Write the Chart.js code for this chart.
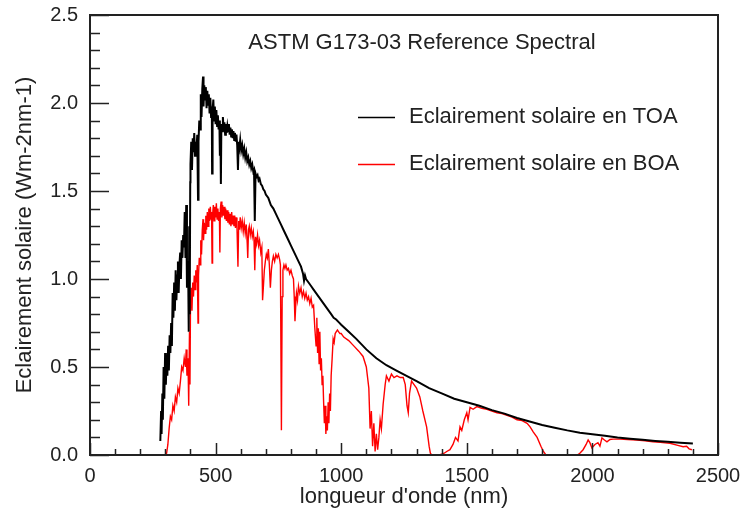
<!DOCTYPE html>
<html>
<head>
<meta charset="utf-8">
<script src="https://cdn.jsdelivr.net/npm/chart.js@4/dist/chart.umd.min.js"></script>
<style>
  html, body { margin: 0; padding: 0; background: #fff; }
</style>
</head>
<body>
<canvas id="spectre" width="744" height="513"></canvas>
<script>
// longueurs d'onde (nm) et eclairement (Wm-2nm-1)
var toaNm = [280,283,285,288,290,293,296,299,302,305,308,311,314,317,320,323,326,329,332,335,338,341,344,347,350,353,356,359,362,365,368,371,374,377,380,383,386,389,391,393,395,397,399,
    400,403,406,409,412,415,418,421,424,427,430,432,435,438,441,444,447,450,452,455,458,461,464,467,470,473,476,479,482,485,486,488,491,494,497,500,503,506,509,512,515,517,519,521,523,526,529,532,535,538,541,544,547,550,553,556,559,562,565,568,571,574,577,580,583,586,589,592,595,598,602,606,610,614,618,622,626,630,634,638,642,646,650,653,656,659,663,667,671,675,680,685,690,695,
    700,710,720,730,740,750,760,770,780,790,800,810,820,830,840,848,852,856,860,870,880,890,900,910,920,930,940,950,960,970,980,990,1000,1030,1060,1100,1140,1180,1220,1260,1300,1350,1400,1450,1500,1550,1600,1650,1700,1750,1800,1850,1900,1950,2000,2050,2100,2150,2200,2250,2300,2350,2400];
var toaVal = [0.08,0.25,0.12,0.35,0.20,0.50,0.32,0.58,0.40,0.55,0.45,0.62,0.48,0.68,0.58,0.75,0.62,0.92,0.78,0.98,0.82,1.05,0.88,1.02,1.10,0.92,1.08,1.15,1.00,1.22,1.12,1.25,1.18,1.38,1.12,1.42,0.95,1.10,1.02,0.70,1.30,0.80,1.55,
    1.65,1.78,1.62,1.80,1.72,1.83,1.70,1.78,1.74,1.82,1.45,1.78,1.90,1.85,2.05,1.92,2.08,2.15,1.98,2.10,2.02,2.09,1.97,2.07,1.99,2.05,1.94,2.03,1.92,1.98,1.60,1.96,2.02,1.90,1.98,1.88,1.96,1.87,1.93,1.85,1.90,1.70,1.86,1.54,1.88,1.84,1.92,1.85,1.89,1.82,1.88,1.83,1.87,1.84,1.88,1.82,1.86,1.81,1.85,1.80,1.84,1.79,1.83,1.78,1.82,1.76,1.62,1.78,1.75,1.79,1.73,1.76,1.71,1.74,1.69,1.72,1.67,1.69,1.65,1.67,1.63,1.65,1.61,1.62,1.33,1.60,1.58,1.59,1.56,1.57,1.54,1.53,1.51,1.50,
    1.48,1.46,1.42,1.40,1.37,1.34,1.31,1.28,1.25,1.22,1.19,1.16,1.13,1.10,1.07,1.03,0.99,1.02,1.00,0.98,0.96,0.94,0.92,0.90,0.88,0.86,0.84,0.82,0.80,0.78,0.77,0.755,0.74,0.70,0.66,0.60,0.55,0.51,0.48,0.45,0.42,0.38,0.35,0.32,0.30,0.28,0.255,0.235,0.21,0.19,0.17,0.155,0.14,0.127,0.118,0.11,0.10,0.093,0.086,0.08,0.075,0.07,0.065];

var boaNm = [300,305,310,315,320,325,330,335,340,345,350,355,360,365,370,375,380,383,386,390,393,396,398,
    400,403,406,409,412,415,418,421,424,427,430,432,435,438,441,444,447,450,452,455,458,461,464,467,470,473,476,479,482,484,486,488,491,494,497,500,503,506,509,512,515,517,519,522,525,528,531,534,537,540,543,546,549,552,555,558,561,564,567,570,573,576,579,582,585,589,592,595,598,602,606,610,614,618,622,626,628,631,634,638,642,646,650,653,656,659,663,667,671,675,680,684,687,690,694,698,
    702,706,710,714,718,722,726,730,735,740,745,750,755,758,762,765,768,772,776,780,785,790,795,800,805,810,813,816,819,822,826,830,835,840,845,850,855,860,865,870,875,880,885,890,895,900,903,906,909,912,915,918,921,924,927,930,933,936,939,942,945,948,951,954,957,960,964,968,972,976,980,985,990,995,
    1000,1010,1030,1050,1070,1087,1100,1110,1115,1120,1125,1130,1135,1140,1145,1150,1155,1160,1167,1175,1180,1190,1200,1210,1222,1235,1247,1255,1262,1267,1272,1280,1290,1300,1313,1325,1340,1350,1355,1360,1390,1400,1410,1420,1433,1445,1455,1465,1473,1480,1490,1500,1505,1513,1525,1540,1560,1580,1600,1620,1640,1660,1680,1700,1720,1740,1752,1765,1780,1795,1805,1815,
    1940,1950,1963,1975,1983,1990,1998,2010,2022,2030,2038,2048,2058,2070,2082,2110,2140,2177,2210,2241,2270,2309,2340,2361,2375,2385,2396];
var boaVal = [0.0,0.01,0.06,0.15,0.22,0.20,0.28,0.25,0.33,0.30,0.38,0.35,0.42,0.50,0.48,0.55,0.50,0.60,0.45,0.55,0.28,0.70,0.40,
    0.85,0.95,0.82,0.98,0.90,1.02,0.94,1.05,0.98,1.08,0.75,1.02,1.12,1.08,1.22,1.14,1.28,1.34,1.22,1.32,1.26,1.36,1.28,1.38,1.30,1.40,1.33,1.41,1.34,1.38,1.09,1.36,1.42,1.33,1.41,1.35,1.43,1.34,1.40,1.33,1.38,1.15,1.40,1.44,1.35,1.42,1.36,1.41,1.34,1.40,1.33,1.39,1.32,1.38,1.31,1.37,1.30,1.38,1.31,1.36,1.30,1.36,1.29,1.35,1.30,1.07,1.33,1.28,1.35,1.29,1.33,1.27,1.32,1.26,1.31,1.20,1.12,1.28,1.30,1.25,1.29,1.24,1.27,1.22,1.05,1.24,1.20,1.25,1.19,1.22,1.15,1.18,0.88,0.95,1.05,1.10,
    1.14,1.12,1.17,1.08,0.95,1.05,1.10,1.13,1.10,1.14,1.12,1.14,1.11,1.08,0.14,0.90,1.05,1.08,1.06,1.08,1.05,1.06,1.03,1.05,1.02,1.00,0.90,0.76,0.85,0.92,0.88,0.96,0.92,0.95,0.90,0.93,0.89,0.92,0.88,0.90,0.86,0.89,0.84,0.85,0.72,0.62,0.78,0.58,0.72,0.52,0.70,0.48,0.55,0.40,0.45,0.30,0.18,0.28,0.12,0.22,0.14,0.30,0.18,0.35,0.25,0.45,0.55,0.66,0.64,0.69,0.70,0.71,0.70,0.69,
    0.69,0.67,0.65,0.62,0.59,0.56,0.50,0.38,0.15,0.25,0.05,0.18,0.02,0.12,0.03,0.10,0.20,0.15,0.29,0.40,0.45,0.42,0.46,0.44,0.45,0.44,0.44,0.40,0.28,0.24,0.35,0.42,0.40,0.38,0.33,0.25,0.16,0.05,0.01,0.0,0.0,0.005,0.01,0.02,0.03,0.06,0.10,0.08,0.16,0.14,0.20,0.24,0.20,0.27,0.26,0.275,0.265,0.26,0.25,0.24,0.235,0.225,0.215,0.20,0.195,0.18,0.16,0.13,0.10,0.05,0.02,0.0,
    0.0,0.01,0.03,0.06,0.085,0.07,0.04,0.06,0.07,0.05,0.097,0.085,0.075,0.088,0.09,0.09,0.088,0.085,0.08,0.075,0.072,0.067,0.055,0.047,0.05,0.035,0.03];

var xTicks = [0, 500, 1000, 1500, 2000, 2500];
var yTicks = [0.0, 0.5, 1.0, 1.5, 2.0, 2.5];

var titre = "ASTM G173-03 Reference Spectral";
var legendes = ["Eclairement solaire en TOA", "Eclairement solaire en BOA"];

function points(nm, val) {
    var res = [];
    for (var i = 0; i < nm.length; i++) {
        res.push({x: nm[i], y: val[i]});
    }
    return res;
}

var police = "'Liberation Sans', Arial, sans-serif";
var encre = "#222";

// cadre, graduations vers l'interieur, titre et legende
var cadre = {
    id: 'cadre',
    afterDraw: function(chart) {
        var ctx = chart.ctx,
            a = chart.chartArea,
            sx = chart.scales.x,
            sy = chart.scales.y;
        ctx.save();
        ctx.strokeStyle = encre;
        ctx.lineWidth = 2;
        ctx.strokeRect(a.left, a.top, a.right - a.left, a.bottom - a.top);

        ctx.lineWidth = 1.5;
        ctx.beginPath();
        for (var v = 0; v <= 2500; v += 100) {
            var px = Math.round(sx.getPixelForValue(v)) + 0.5;
            var len = v % 500 === 0 ? 12 : 6;
            ctx.moveTo(px, a.bottom);
            ctx.lineTo(px, a.bottom - len);
        }
        for (var i = 0; i <= 25; i++) {
            var py = Math.round(sy.getPixelForValue(i / 10)) + 0.5;
            var l = i % 5 === 0 ? 19 : 10;
            ctx.moveTo(a.left, py);
            ctx.lineTo(a.left + l, py);
        }
        ctx.stroke();

        ctx.fillStyle = encre;
        ctx.font = "22px " + police;
        ctx.textBaseline = "middle";
        ctx.textAlign = "center";
        ctx.fillText(titre, 422, 43);

        var couleurs = chart.data.datasets.map(function(d) { return d.borderColor; });
        var ys = [117, 164];
        ctx.textAlign = "left";
        for (var k = 0; k < legendes.length; k++) {
            ctx.strokeStyle = couleurs[k];
            ctx.lineWidth = 1.5;
            ctx.beginPath();
            ctx.moveTo(358, ys[k] + 0.5);
            ctx.lineTo(395, ys[k] + 0.5);
            ctx.stroke();
            ctx.fillText(legendes[k], 409, ys[k]);
        }
        ctx.restore();
    }
};

var ctx = document.getElementById("spectre").getContext("2d");
var spectre = new Chart(ctx, {
    type: 'line',
    data: {
        datasets: [
            {
                label: legendes[0],
                data: points(toaNm, toaVal),
                borderColor: "#000000",
                borderWidth: 2,
                pointRadius: 0,
                tension: 0
            },
            {
                label: legendes[1],
                data: points(boaNm, boaVal),
                borderColor: "#ff0000",
                borderWidth: 1.4,
                pointRadius: 0,
                tension: 0
            }
        ]
    },
    options: {
        responsive: false,
        animation: false,
        devicePixelRatio: 1,
        layout: { padding: { left: 0, top: 15, right: 26, bottom: 0 } },
        plugins: {
            legend: { display: false },
            tooltip: { enabled: false }
        },
        scales: {
            x: {
                type: 'linear',
                min: 0,
                max: 2500,
                afterFit: function(s) {
                    s.height = 58;
                    s.paddingLeft = 0;
                    s.paddingRight = 0;
                },
                afterBuildTicks: function(s) { s.ticks = xTicks.map(function(v) { return {value: v}; }); },
                grid: { display: false, drawTicks: false },
                border: { display: false },
                ticks: {
                    color: encre,
                    font: { family: police, size: 20 },
                    padding: 9,
                    maxRotation: 0,
                    callback: function(v) { return String(v); }
                },
                title: {
                    display: true,
                    text: "longueur d'onde (nm)",
                    color: encre,
                    font: { family: police, size: 22 },
                    padding: { top: 0, bottom: 3 }
                }
            },
            y: {
                min: 0,
                max: 2.5,
                afterFit: function(s) {
                    s.width = 90;
                    s.paddingTop = 0;
                    s.paddingBottom = 0;
                },
                afterBuildTicks: function(s) { s.ticks = yTicks.map(function(v) { return {value: v}; }); },
                grid: { display: false, drawTicks: false },
                border: { display: false },
                ticks: {
                    color: encre,
                    font: { family: police, size: 20 },
                    padding: 12,
                    callback: function(v) { return Number(v).toFixed(1); }
                },
                title: {
                    display: true,
                    text: "Eclairement solaire (Wm-2nm-1)",
                    color: encre,
                    font: { family: police, size: 22 },
                    padding: { top: 12, bottom: 0 }
                }
            }
        }
    },
    plugins: [cadre]
});
</script>
</body>
</html>
